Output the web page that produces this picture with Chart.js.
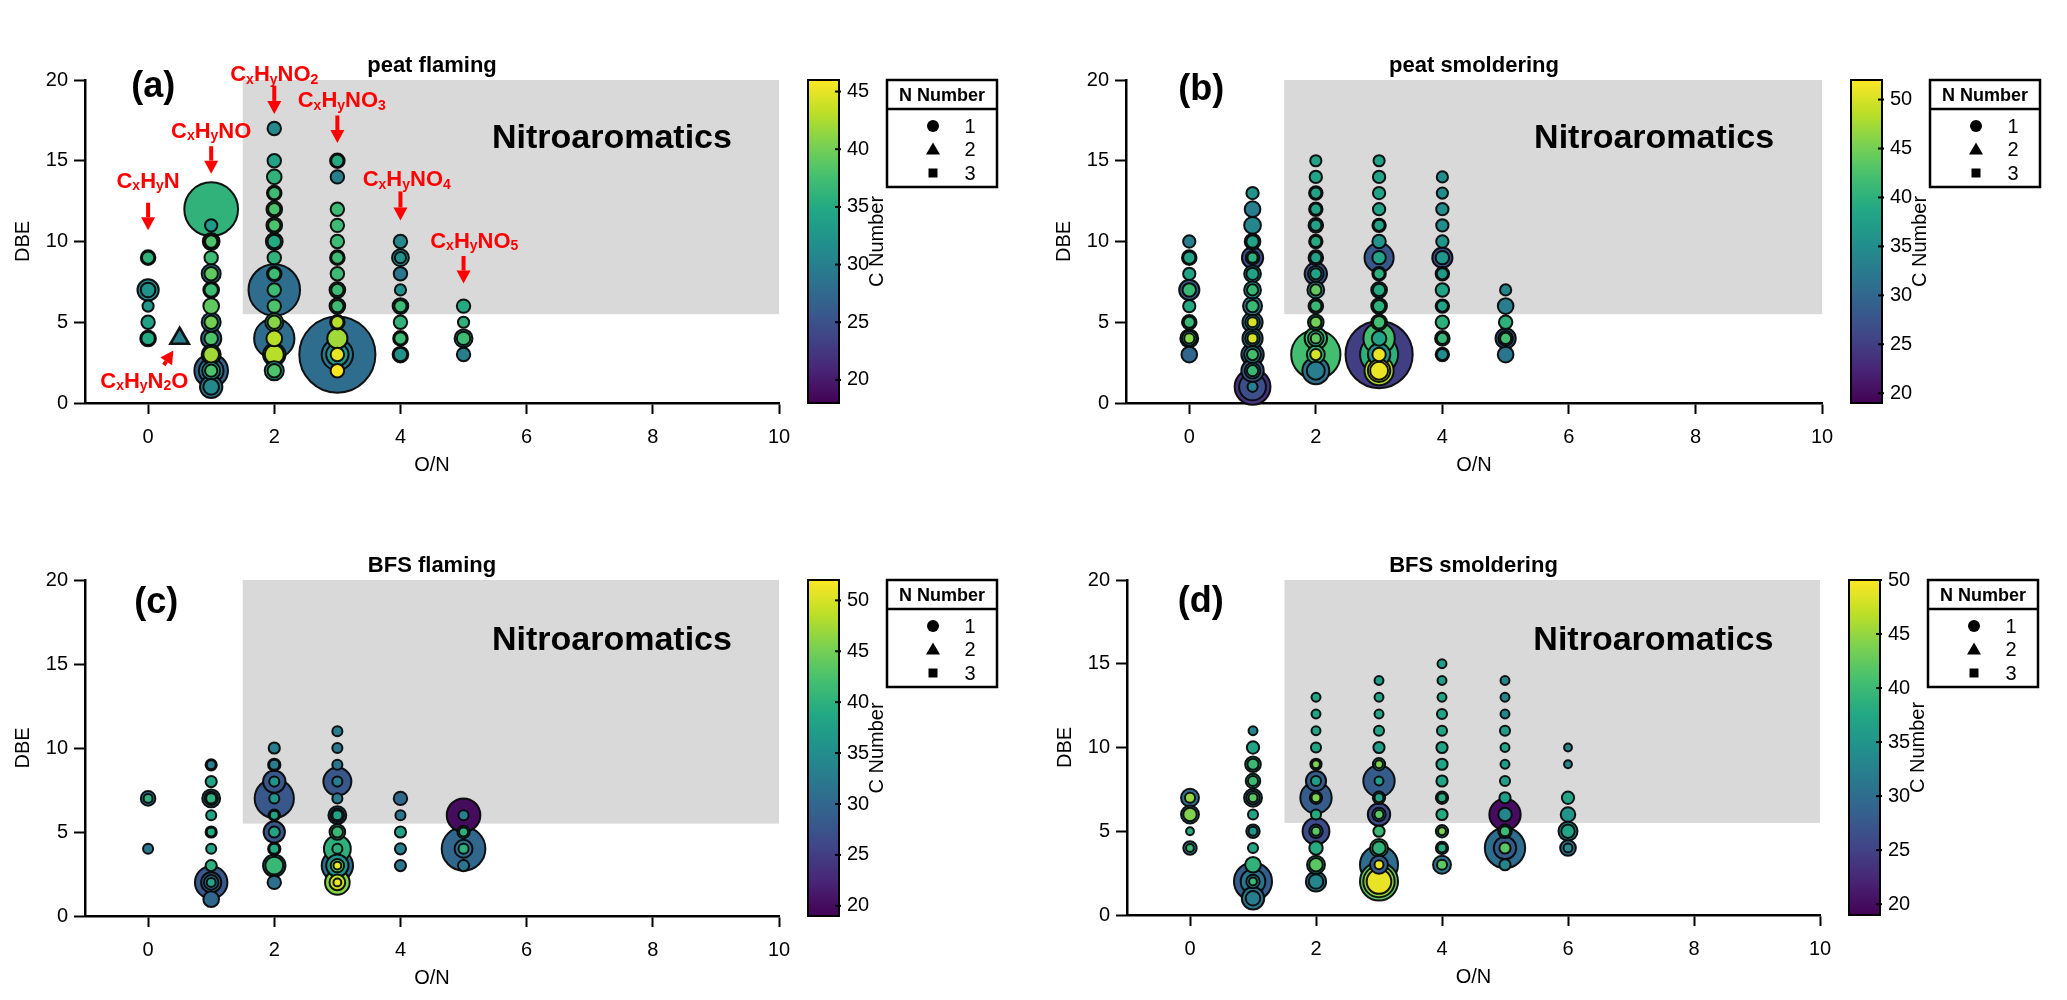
<!DOCTYPE html>
<html>
<head>
<meta charset="utf-8">
<title>DBE vs O/N of nitrogen-containing compounds</title>
<script src="https://cdn.jsdelivr.net/npm/chart.js@4.4.1/dist/chart.umd.min.js"></script>
<style>
  html, body { margin: 0; padding: 0; background: #fff; }
  #page { position: relative; width: 2067px; height: 1000px; overflow: hidden; }
  .panel { position: absolute; height: 500px; }
</style>
</head>
<body>
<div id="page">
  <div class="panel" style="left:0;top:0;width:1033px"><canvas id="panelA"></canvas></div>
  <div class="panel" style="left:1033px;top:0;width:1034px"><canvas id="panelB"></canvas></div>
  <div class="panel" style="left:0;top:500px;width:1033px"><canvas id="panelC"></canvas></div>
  <div class="panel" style="left:1033px;top:500px;width:1034px"><canvas id="panelD"></canvas></div>
</div>
<script>
// each point: [O/N, DBE, bubble size, C number]
const peatFlaming = [
  [0,9,6.5,35],[0,9,5.5,36],[0,7,9.5,31],[0,7,6.5,32],[0,6,5,33],[0,5,6,34],[0,4,7,34],[0,4,6,35],
  [1,12,24,36],[1,11,5.5,33],[1,10,7.5,36],[1,10,6.5,37],[1,10,5.5,38],[1,9,6,37],[1,8,8.5,30],[1,8,6,39],
  [1,7,7,36],[1,7,6,37],[1,6,7,39],[1,5,8.5,31],[1,5,6,40],[1,4,9,27],[1,4,6,38],[1,3,8.5,33],[1,3,7,42],
  [1,2,15,27],[1,2,11,29],[1,2,8,33],[1,2,5.5,38],[1,1,10,29],[1,1,7,31],
  [2,17,6,31],[2,15,6,34],[2,14,6.5,36],[2,13,6.5,36],[2,13,5.5,37],[2,12,7,37],[2,12,5.5,38],
  [2,11,7,37],[2,11,5.5,38],[2,10,7.5,31],[2,10,6,35],[2,9,6,36],[2,8,6.5,36],[2,8,5.5,37],
  [2,7,23,28],[2,7,6,37],[2,6,6,38],[2,5,8,37],[2,5,6,41],[2,4,18,28],[2,4,7,43],[2,3,10,34],[2,3,8.5,43],
  [2,2,8.5,34],[2,2,6,38],
  [3,15,6.5,35],[3,15,5.5,35],[3,14,6,30],[3,12,6,37],[3,11,6,37],[3,10,6,37],[3,9,6.5,37],[3,9,5.5,37],
  [3,8,6,37],[3,7,7,36],[3,7,5.5,37],[3,6,7,36],[3,6,5.5,37],[3,5,6.5,40],[3,5,5.5,43],[3,4,9,42],
  [3,3,34,28],[3,3,14,29],[3,3,10,33],[3,3,6,45],[3,2,6,46],
  [4,10,6,31],[4,9,7.5,31],[4,9,5,32],[4,8,6,29],[4,7,5,32],[4,6,7,36],[4,6,5.5,37],[4,5,6,36],
  [4,4,6.5,37],[4,4,5.5,37],[4,3,7,31],[4,3,6,32],
  [5,6,6,35],[5,5,5,36],[5,4,8,32],[5,4,6,37],[5,3,6,30]
];
const peatFlamingN2 = [[0.5,4,9.5,30]];

const peatSmoldering = [
  [0,10,5.5,33],[0,9,6.5,37],[0,9,5.5,38],[0,8,5.5,38],[0,7,9,29],[0,7,6,41],[0,6,5.5,39],
  [0,5,6.5,38],[0,5,5,41],[0,4,8,34],[0,4,6.5,37],[0,4,4.5,46],[0,3,7,30],
  [1,13,5.5,36],[1,12,7,33],[1,11,7.5,34],[1,10,7,37],[1,10,5.5,38],[1,9,9.5,27],[1,9,6,38],[1,9,4.5,40],
  [1,8,7.5,36],[1,8,5.5,38],[1,7,7.5,36],[1,7,5,41],[1,6,8.5,32],[1,6,5.5,41],
  [1,5,9,32],[1,5,6.5,36],[1,5,4.5,50],[1,4,9,32],[1,4,6.5,35],[1,4,4.5,50],
  [1,3,10,30],[1,3,7.5,34],[1,3,5,42],[1,2,10,28],[1,2,7,34],[1,2,5,41],[1,1,16,24],[1,1,12,27],[1,1,4.5,33],
  [2,15,5,38],[2,14,5.5,38],[2,13,6,37],[2,13,5,38],[2,12,6,37],[2,12,5,38],[2,11,6.5,37],[2,11,5,38],
  [2,10,6,37],[2,10,5,39],[2,9,6.5,34],[2,9,5,38],[2,8,10,28],[2,8,7,33],[2,8,5,38],
  [2,7,7.5,34],[2,7,5,44],[2,6,6.5,36],[2,6,5,41],[2,5,7,36],[2,5,5,45],
  [2,4,10,42],[2,4,7,40],[2,4,4.5,44],[2,3,22,42],[2,3,8,41],[2,3,5,50],[2,2,12,31],[2,2,8,33],
  [3,15,5,38],[3,14,5.5,38],[3,13,5.5,38],[3,12,5.5,38],[3,11,6,37],[3,11,5,38],[3,10,6,36],
  [3,9,13,28],[3,9,6,38],[3,8,6,39],[3,8,5,40],[3,7,7,36],[3,7,5.5,39],[3,6,7,36],[3,6,5.5,40],
  [3,5,7,41],[3,5,5.5,42],[3,4,14,42],[3,4,6.5,38],
  [3,3,30,25],[3,3,17,40],[3,3,10,36],[3,3,6,51],[3,2,13,48],[3,2,10,50],[3,2,8,51],
  [4,14,5,35],[4,13,5,35],[4,12,5.5,35],[4,11,5.5,35],[4,10,5.5,36],[4,9,9,27],[4,9,6,36],
  [4,8,6,37],[4,8,5,37],[4,7,6,38],[4,6,6,38],[4,6,5,38],[4,5,6,40],[4,4,6.5,40],[4,4,5,41],
  [4,3,6,33],[4,3,5,35],
  [5,7,5,34],[5,6,7,33],[5,5,6,40],[5,4,9,29],[5,4,6.5,38],[5,4,5,42],[5,3,7,32]
];

const bfsFlaming = [
  [0,7,6.5,31],[0,7,4,40],[0,4,4.5,32],
  [1,9,5,32],[1,9,4,33],[1,8,5,38],[1,7,8,33],[1,7,6,34],[1,7,4.5,40],[1,6,4.5,38],
  [1,5,5,37],[1,5,4,39],[1,4,4.5,38],[1,3,5,40],
  [1,2,14.5,28],[1,2,9,30],[1,2,6.5,31],[1,2,4,38],[1,1,7,30],
  [2,10,5,33],[2,9,5.5,32],[2,9,4.5,33],[2,8,10,28],[2,8,4.5,36],[2,7,17.5,28],[2,7,4.5,36],
  [2,6,5,37],[2,6,4,38],[2,5,9.5,28],[2,5,5,38],[2,4,5.5,38],[2,4,4.5,39],[2,3,10,33],[2,3,8,41],[2,2,6,31],
  [3,11,4.5,33],[3,10,4.5,32],[3,9,4.5,32],[3,8,12.5,28],[3,8,4.5,33],[3,7,4.5,33],
  [3,6,8,28],[3,6,6,33],[3,6,4.5,38],[3,5,7,40],[3,5,5,41],[3,4,12,40],[3,4,4.5,40],
  [3,3,14,31],[3,3,10,36],[3,3,6,44],[3,3,3.5,51],[3,2,11,46],[3,2,7,49],[3,2,3.5,51],
  [4,7,6,30],[4,6,4.5,32],[4,5,5,38],[4,4,5,33],[4,3,5,32],
  [5,6,15,20],[5,6,4.5,33],[5,5,5.5,38],[5,5,4,40],[5,4,19.5,30],[5,4,8,31],[5,4,4.5,40],[5,3,5,32]
];

const bfsSmoldering = [
  [0,7,8,30],[0,7,4.5,45],[0,6,8,31],[0,6,6,44],[0,5,3.5,38],[0,4,6,33],[0,4,3.5,40],
  [1,11,4,33],[1,10,5.5,37],[1,9,7,38],[1,9,5,40],[1,8,6.5,38],[1,8,4.5,40],
  [1,7,8,31],[1,7,6,33],[1,7,4,42],[1,6,4.5,37],[1,5,6,32],[1,5,4,35],[1,4,4.5,37],[1,3,7,39],
  [1,2,17,28],[1,2,11,31],[1,2,6,32],[1,2,3.5,40],[1,1,10,31],[1,1,6.5,32],
  [2,13,4,37],[2,12,4,37],[2,11,4,37],[2,10,4.5,37],[2,9,5,33],[2,9,3.5,44],[2,8,9,28],[2,8,4.5,36],
  [2,7,14,28],[2,7,5.5,33],[2,7,4,44],[2,6,4.5,38],[2,5,12,26],[2,5,6,31],[2,5,4,42],
  [2,4,6,38],[2,3,8,36],[2,3,6,42],[2,2,9,31],[2,2,6.5,33],
  [3,14,4,36],[3,13,4,37],[3,12,4,37],[3,11,4.5,37],[3,10,5,36],[3,9,5.5,36],[3,9,3.5,44],
  [3,8,14,28],[3,8,4,36],[3,7,5.5,36],[3,7,4,37],[3,6,10,26],[3,6,6,31],[3,6,4,42],[3,5,5,40],
  [3,4,8,41],[3,4,6,39],[3,3,17,30],[3,3,8,28],[3,3,4,49],[3,2,17,42],[3,2,14,45],[3,2,11,49],
  [4,15,4,36],[4,14,4,36],[4,13,4,37],[4,12,4.5,37],[4,11,4.5,37],[4,10,5,37],[4,9,5,37],[4,8,5,37],
  [4,7,5.5,37],[4,7,4,38],[4,6,5,38],[4,5,5.5,37],[4,5,3.5,44],[4,4,5.5,37],[4,4,4,38],[4,3,8,31],[4,3,4.5,42],
  [5,14,4,33],[5,13,4,33],[5,12,4,33],[5,11,4.5,36],[5,10,4,37],[5,9,4,36],[5,8,4.5,36],[5,7,5,36],
  [5,6,14,20],[5,6,6,33],[5,5,6,36],[5,5,4.5,40],[5,4,18,30],[5,4,10,28],[5,4,5,42],[5,3,5,33],
  [6,10,3.5,33],[6,9,3.5,33],[6,7,5.5,37],[6,6,6.5,35],[6,5,8.5,33],[6,5,6,37],[6,4,7,30],[6,4,4,34]
];

const xTicks = [0, 2, 4, 6, 8, 10];
const yTicks = [0, 5, 10, 15, 20];
const cRangeA = [18, 46];
const cRangeB = [19, 52];
const cRangeC = [19, 52];
const cRangeD = [19, 50];
const cTicksA = [20, 25, 30, 35, 40, 45];
const cTicksB = [20, 25, 30, 35, 40, 45, 50];
const nNumbers = ['1', '2', '3'];

// formula labels of panel (a)
const formulaText = ['C_xH_yN', 'C_xH_yNO', 'C_xH_yNO_2', 'C_xH_yNO_3', 'C_xH_yNO_4', 'C_xH_yNO_5', 'C_xH_yN_2O'];
const formulaAt = [[0, 13.8], [1, 16.9], [2, 20.4], [3.07, 18.8], [4.1, 13.9], [5.17, 10.1], [-0.06, 1.45]];
const arrowFrom = [[0, 12.4], [1, 15.9], [2, 19.65], [3, 17.8], [4, 13.1], [5, 9.1], [0.25, 2.35]];
const arrowTo = [[0, 10.7], [1, 14.2], [2, 17.9], [3, 16.1], [4, 11.3], [5, 7.4], [0.4, 3.25]];

const FONT = "'Liberation Sans', Arial, Helvetica, sans-serif";
const RED = '#ff0000';
const SIZE_SCALE = 1.12;
const VIRIDIS = ['#440154', '#482475', '#414487', '#355f8d', '#2a788e', '#21918c',
                 '#22a884', '#44bf70', '#7ad151', '#bddf26', '#fde725'];

Chart.defaults.font.family = FONT;
Chart.defaults.color = '#000';

function hexToRgb(h) {
  return [parseInt(h.slice(1, 3), 16), parseInt(h.slice(3, 5), 16), parseInt(h.slice(5, 7), 16)];
}

function viridis(t) {
  t = Math.max(0, Math.min(1, t));
  const pos = t * (VIRIDIS.length - 1);
  const i = Math.min(Math.floor(pos), VIRIDIS.length - 2);
  const f = pos - i;
  const a = hexToRgb(VIRIDIS[i]), b = hexToRgb(VIRIDIS[i + 1]);
  const c = a.map((v, k) => Math.round(v + (b[k] - v) * f));
  return `rgb(${c[0]},${c[1]},${c[2]})`;
}

function richText(ctx, str, cx, cy, size) {
  const parts = [];
  for (let i = 0; i < str.length; i++) {
    if (str[i] === '_') { parts.push({ t: str[i + 1], sub: true }); i++; }
    else parts.push({ t: str[i], sub: false });
  }
  const big = `bold ${size}px ${FONT}`;
  const small = `bold ${Math.round(size * 0.62)}px ${FONT}`;
  let w = 0;
  parts.forEach(p => { ctx.font = p.sub ? small : big; p.w = ctx.measureText(p.t).width; w += p.w; });
  let x = cx - w / 2;
  const base = cy + size * 0.36;
  ctx.textAlign = 'left';
  ctx.textBaseline = 'alphabetic';
  parts.forEach(p => {
    ctx.font = p.sub ? small : big;
    ctx.fillText(p.t, x, base + (p.sub ? size * 0.1 : 0));
    x += p.w;
  });
}

function arrow(ctx, x1, y1, x2, y2) {
  const ang = Math.atan2(y2 - y1, x2 - x1);
  const head = 13, half = 7;
  const bx = x2 - head * Math.cos(ang), by = y2 - head * Math.sin(ang);
  ctx.strokeStyle = RED;
  ctx.fillStyle = RED;
  ctx.lineWidth = 4;
  ctx.beginPath();
  ctx.moveTo(x1, y1);
  ctx.lineTo(bx, by);
  ctx.stroke();
  ctx.beginPath();
  ctx.moveTo(x2, y2);
  ctx.lineTo(bx + half * Math.sin(ang), by - half * Math.cos(ang));
  ctx.lineTo(bx - half * Math.sin(ang), by + half * Math.cos(ang));
  ctx.closePath();
  ctx.fill();
}

function extrasPlugin(p) {
  return {
    id: 'extras',
    beforeDatasetsDraw(chart) {
      const { ctx, scales: { x, y } } = chart;
      ctx.save();
      ctx.fillStyle = '#d9d9d9';
      const l = x.getPixelForValue(1.5), r = x.getPixelForValue(10);
      const t = y.getPixelForValue(20), b = y.getPixelForValue(5.5);
      ctx.fillRect(l, t, r - l, b - t);
      ctx.restore();
    },
    afterDraw(chart) {
      const { ctx, chartArea: area, scales: { x, y, c } } = chart;
      ctx.save();

      // colour bar
      const barL = area.right + 29, barW = 31;
      const top = c.getPixelForValue(p.cRange[1]), bot = c.getPixelForValue(p.cRange[0]);
      const grad = ctx.createLinearGradient(0, bot, 0, top);
      VIRIDIS.forEach((col, i) => grad.addColorStop(i / (VIRIDIS.length - 1), col));
      ctx.fillStyle = grad;
      ctx.fillRect(barL, top, barW, bot - top);
      ctx.strokeStyle = '#000';
      ctx.lineWidth = 2;
      ctx.strokeRect(barL, top, barW, bot - top);
      p.cTicks.forEach(v => {
        const py = c.getPixelForValue(v);
        ctx.beginPath();
        ctx.moveTo(barL + barW - 4, py);
        ctx.lineTo(barL + barW + 2, py);
        ctx.stroke();
      });
      ctx.save();
      ctx.translate(area.right + 98, (area.top + area.bottom) / 2);
      ctx.rotate(-Math.PI / 2);
      ctx.fillStyle = '#000';
      ctx.font = `20px ${FONT}`;
      ctx.textAlign = 'center';
      ctx.textBaseline = 'middle';
      ctx.fillText('C Number', 0, 0);
      ctx.restore();

      // N number legend
      const lgL = area.right + 108, lgT = area.top, lgW = 110, lgH = 107;
      ctx.lineWidth = 2.5;
      ctx.strokeRect(lgL, lgT, lgW, lgH);
      ctx.beginPath();
      ctx.moveTo(lgL, lgT + 29);
      ctx.lineTo(lgL + lgW, lgT + 29);
      ctx.stroke();
      ctx.fillStyle = '#000';
      ctx.font = `bold 18px ${FONT}`;
      ctx.textAlign = 'center';
      ctx.textBaseline = 'middle';
      ctx.fillText('N Number', lgL + lgW / 2, lgT + 16);
      ctx.font = `20px ${FONT}`;
      nNumbers.forEach((n, i) => {
        const cy = lgT + 46 + i * 23.5, sx = lgL + 46;
        ctx.beginPath();
        if (i === 0) ctx.arc(sx, cy, 6, 0, Math.PI * 2);
        else if (i === 1) { ctx.moveTo(sx, cy - 7); ctx.lineTo(sx + 7, cy + 5); ctx.lineTo(sx - 7, cy + 5); ctx.closePath(); }
        else ctx.rect(sx - 4.5, cy - 4.5, 9, 9);
        ctx.fill();
        ctx.fillText(n, lgL + 83, cy + 1);
      });

      // titles and labels
      ctx.font = `bold 22px ${FONT}`;
      ctx.fillText(p.title, x.getPixelForValue(4.5), area.top - 14);
      ctx.font = `bold 36px ${FONT}`;
      ctx.fillText(p.tag, x.getPixelForValue(p.tagAt[0]), y.getPixelForValue(p.tagAt[1]));
      ctx.font = `bold 34px ${FONT}`;
      ctx.textAlign = 'left';
      ctx.fillText('Nitroaromatics', x.getPixelForValue(5.45), y.getPixelForValue(16.4));

      if (p.formulas) {
        ctx.fillStyle = RED;
        formulaText.forEach((t, i) => {
          richText(ctx, t, x.getPixelForValue(formulaAt[i][0]), y.getPixelForValue(formulaAt[i][1]), 22);
          arrow(ctx, x.getPixelForValue(arrowFrom[i][0]), y.getPixelForValue(arrowFrom[i][1]),
                     x.getPixelForValue(arrowTo[i][0]), y.getPixelForValue(arrowTo[i][1]));
        });
      }
      ctx.restore();
    }
  };
}

function bubbleSet(points, cRange, style) {
  const pts = points.slice().sort((a, b) => b[2] - a[2]);
  const col = v => viridis((v - cRange[0]) / (cRange[1] - cRange[0]));
  return {
    type: 'bubble',
    data: pts.map(q => ({ x: q[0], y: q[1], r: q[2] * SIZE_SCALE })),
    backgroundColor: pts.map(q => col(q[3])),
    borderColor: 'rgba(8,8,8,0.95)',
    borderWidth: style === 'triangle' ? 2.6 : 2,
    pointStyle: style,
    clip: false
  };
}

function makePanel(p) {
  const datasets = [bubbleSet(p.points, p.cRange, 'circle')];
  if (p.n2) datasets.push(bubbleSet(p.n2, p.cRange, 'triangle'));
  const axisTicks = list => s => { s.ticks = list.map(v => ({ value: v })); };
  return new Chart(document.getElementById(p.id), {
    type: 'bubble',
    data: { datasets },
    options: {
      responsive: true,
      maintainAspectRatio: false,
      animation: false,
      devicePixelRatio: 1,
      events: [],
      layout: { padding: p.pad },
      plugins: { legend: { display: false }, tooltip: { enabled: false } },
      scales: {
        x: {
          type: 'linear', min: -1, max: 10,
          afterBuildTicks: axisTicks(xTicks),
          afterFit: s => { s.height = 74; },
          grid: { drawOnChartArea: false, drawTicks: true, tickLength: 11, tickWidth: 2, color: '#000' },
          border: { display: true, color: '#000', width: 2.5 },
          ticks: { color: '#000', font: { size: 20 }, padding: 11, maxRotation: 0 },
          title: { display: true, text: 'O/N', color: '#000', font: { size: 20 }, padding: 0 }
        },
        y: {
          type: 'linear', min: 0, max: 20,
          afterBuildTicks: axisTicks(yTicks),
          afterFit: s => { s.width = 85; },
          grid: { drawOnChartArea: false, drawTicks: true, tickLength: 11, tickWidth: 2, color: '#000' },
          border: { display: true, color: '#000', width: 2.5 },
          ticks: { color: '#000', font: { size: 20 }, padding: 6 },
          title: { display: true, text: 'DBE', color: '#000', font: { size: 20 }, padding: { top: 11, bottom: 0 } }
        },
        c: {
          type: 'linear', position: 'right', min: p.cRange[0], max: p.cRange[1],
          afterBuildTicks: axisTicks(p.cTicks),
          afterFit: s => { s.width = p.cWidth; },
          grid: { display: false, drawTicks: false },
          border: { display: false },
          ticks: { color: '#000', font: { size: 20 }, padding: 68 }
        }
      }
    },
    plugins: [extrasPlugin(p)]
  });
}

const panelList = [
  { id: 'panelA', points: peatFlaming, n2: peatFlamingN2, cRange: cRangeA, cTicks: cTicksA,
    title: 'peat flaming', tag: '(a)', tagAt: [0.08, 19.55], formulas: true,
    pad: { left: 0, top: 57, right: 0, bottom: 23 }, cWidth: 254 },
  { id: 'panelB', points: peatSmoldering, cRange: cRangeB, cTicks: cTicksB,
    title: 'peat smoldering', tag: '(b)', tagAt: [0.19, 19.4],
    pad: { left: 8, top: 55, right: 0, bottom: 23 }, cWidth: 245 },
  { id: 'panelC', points: bfsFlaming, cRange: cRangeC, cTicks: cTicksB,
    title: 'BFS flaming', tag: '(c)', tagAt: [0.13, 18.6],
    pad: { left: 0, top: 69, right: 0, bottom: 10 }, cWidth: 254 },
  { id: 'panelD', points: bfsSmoldering, cRange: cRangeD, cTicks: cTicksB,
    title: 'BFS smoldering', tag: '(d)', tagAt: [0.17, 18.7],
    pad: { left: 9, top: 66, right: 0, bottom: 11 }, cWidth: 247 }
];

panelList.forEach(makePanel);
</script>
</body>
</html>
